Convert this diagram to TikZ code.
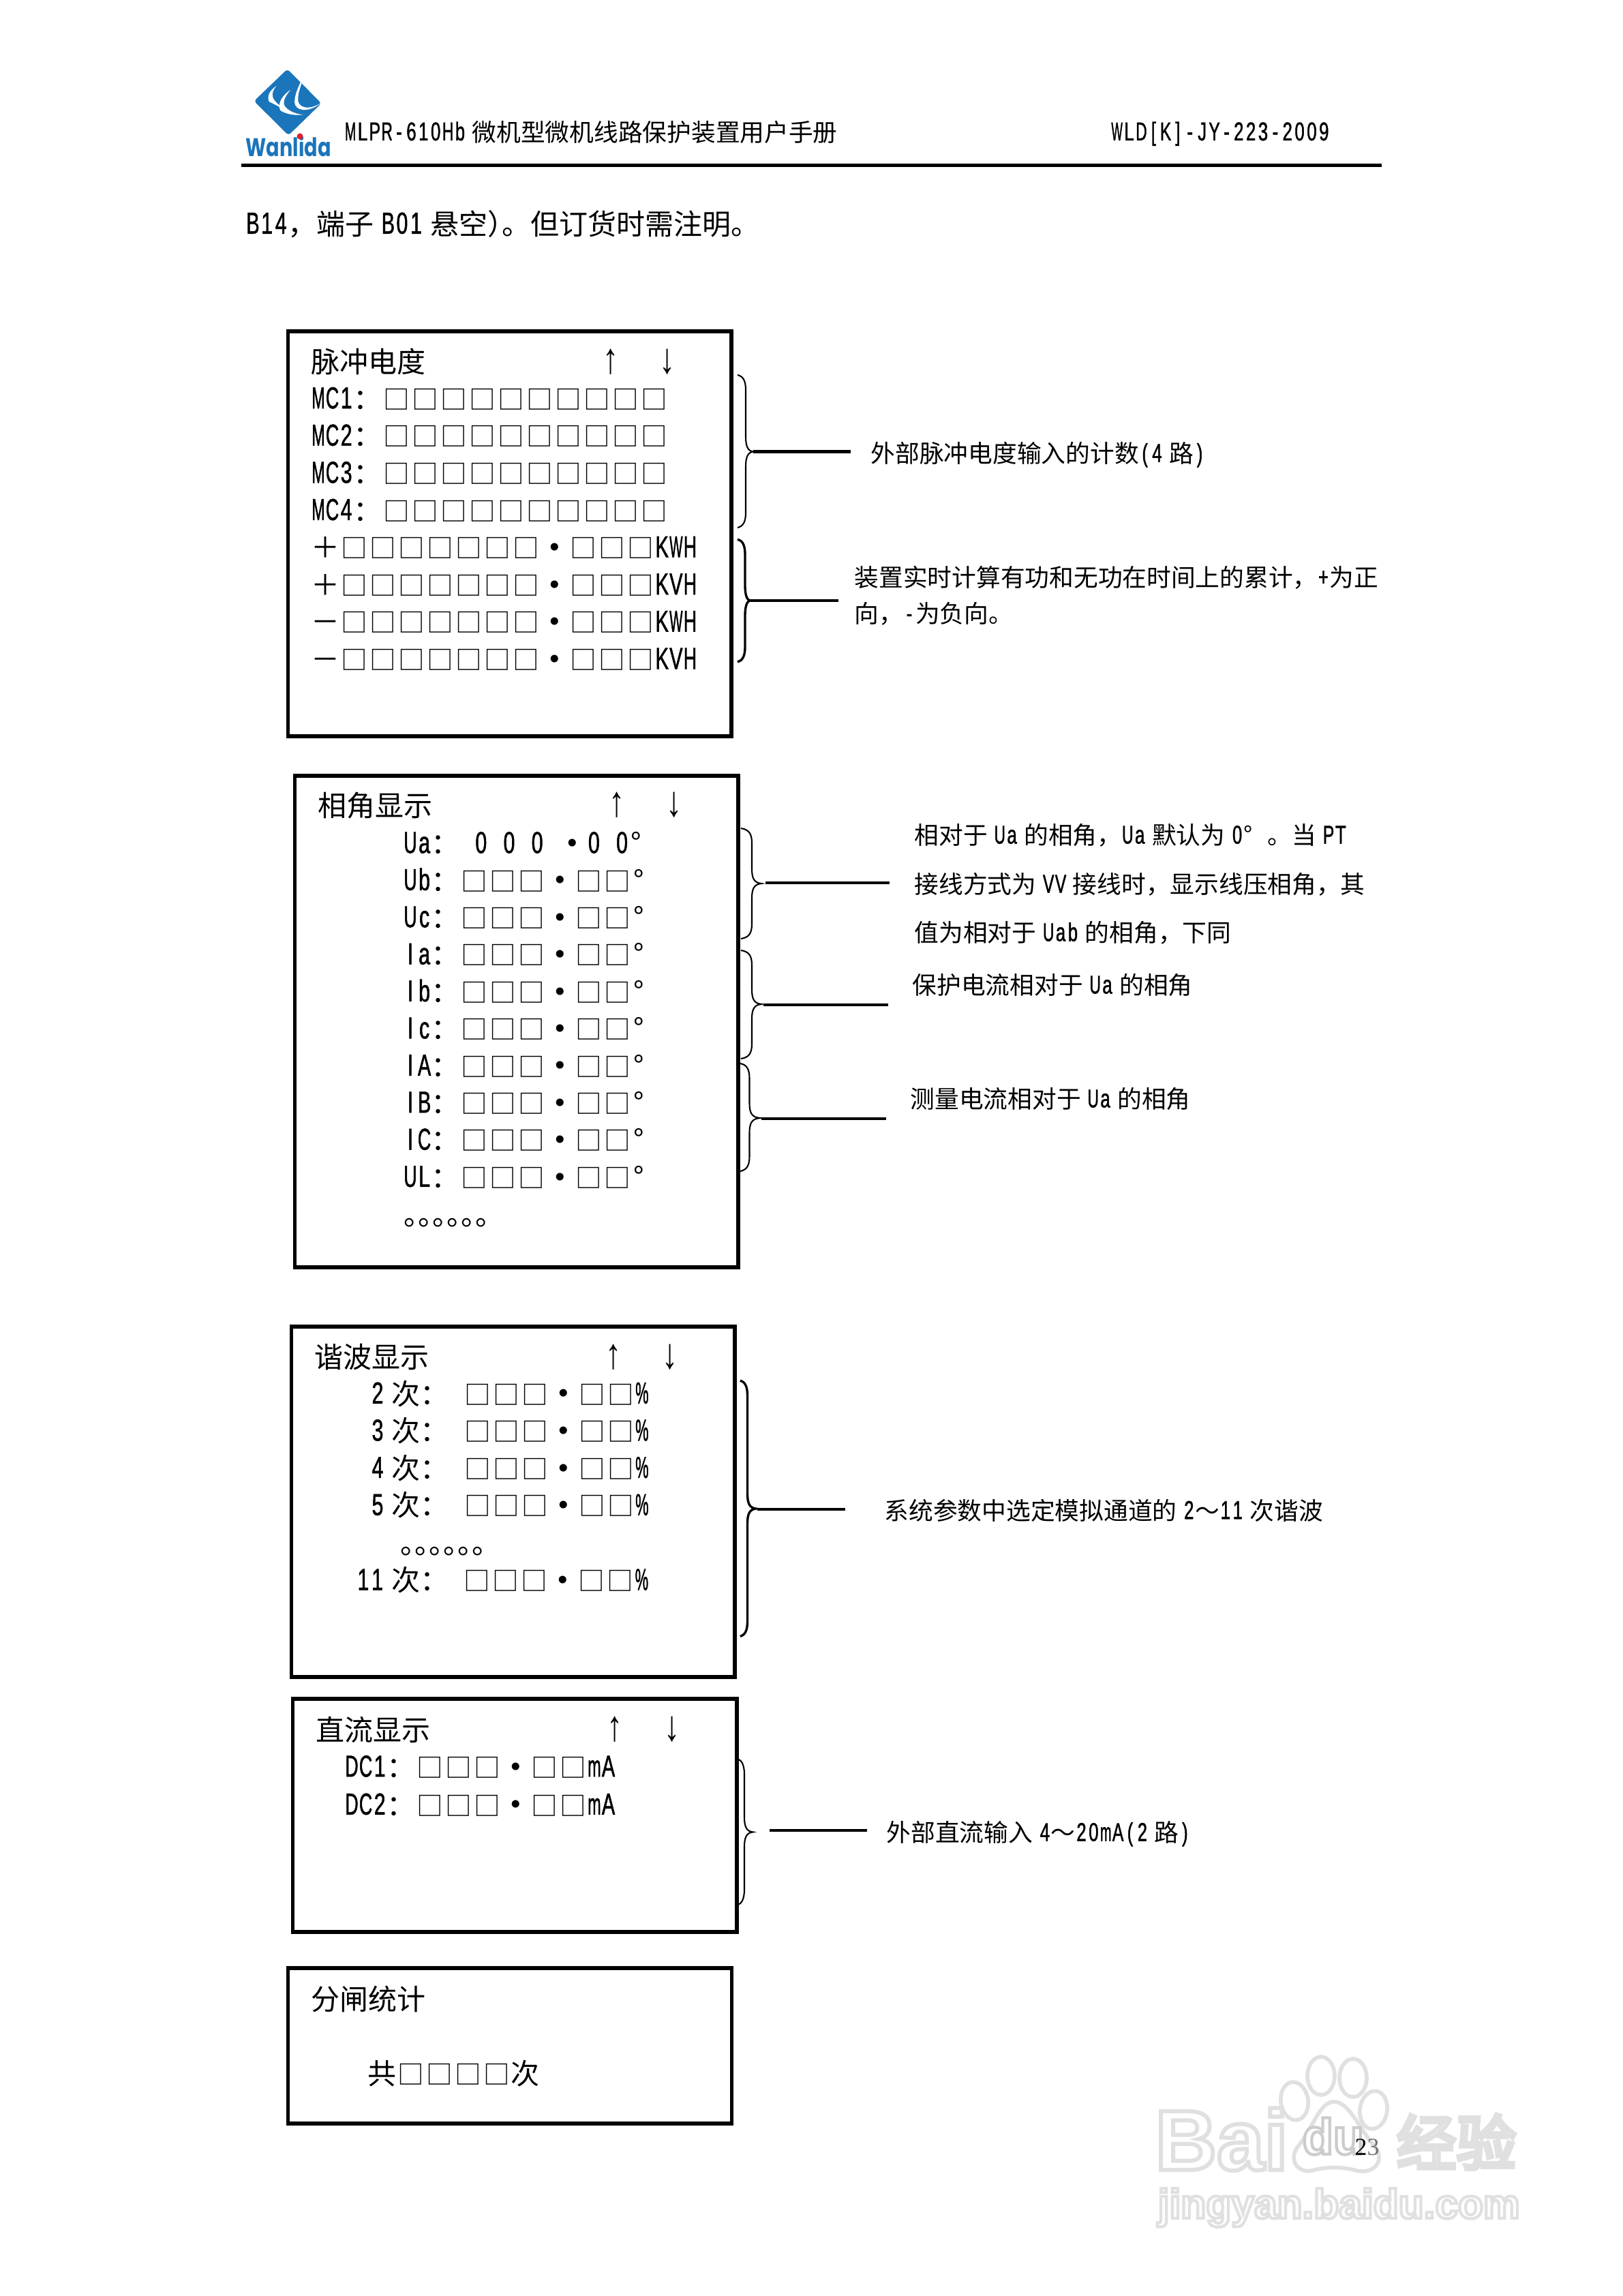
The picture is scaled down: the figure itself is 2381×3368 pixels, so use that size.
\documentclass[tikz,border=0pt]{standalone}
\usepackage{fontspec}
\usepackage{graphicx}
\setmainfont{Noto Sans CJK SC}
\newfontfamily\latf[FakeStretch=0.68,FakeBold=1.2,Scale=1.06]{Liberation Sans}
\newfontfamily\wmfam{Liberation Sans}
\newfontfamily\arrf{Liberation Sans}
\newcommand\wmf{\wmfam\bfseries}
\newfontfamily\logofam{Poppins}
\newcommand\logof{\logofam\bfseries}
\newfontfamily\serf{Liberation Serif}
\newcommand\ltw{.5em}
\newcommand\fa{\fontsize{11.95pt}{14pt}\selectfont\renewcommand\ltw{.49em}}
\newcommand\fb{\fontsize{10.16pt}{12pt}\selectfont}
\newsavebox\ltbox
\makeatletter
\newcommand\lt@one[1]{\sbox\ltbox{\latf #1}\ifdim\wd\ltbox>.46em\makebox[\ltw]{\raisebox{.03em}{\resizebox{.46em}{\height}{\usebox\ltbox}}}\else\makebox[\ltw]{\raisebox{.03em}{\usebox\ltbox}}\fi}
\newcommand\Lat[1]{\@tfor\lt@c:=#1\do{\lt@one{\lt@c}}}
\makeatother
\newcommand\qs{\hspace{.25em}}
\newcommand\dt{\makebox[1em]{\raisebox{-.09em}{\scalebox{1.25}{•}}}}
\newcommand\dg{\makebox[.5em]{°}}
\newcommand\sqc{\makebox[1em]{\scalebox{.92}{\char"25A1}}}
\catcode`□=\active
\def□{\sqc}
\newcommand\uparr{\scalebox{1.1}[1.5]{↑}}
\newcommand\dnarr{\scalebox{1.1}[1.5]{↓}}
\newcommand\sixo{\makebox[.5em][l]{\hspace{-.06em}。}\makebox[.5em][l]{\hspace{-.06em}。}\makebox[.5em][l]{\hspace{-.06em}。}\makebox[.5em][l]{\hspace{-.06em}。}\makebox[.5em][l]{\hspace{-.06em}。}\makebox[.5em][l]{\hspace{-.06em}。}}
\definecolor{wblue}{HTML}{1B75BB}
\definecolor{wred}{HTML}{D8232A}
\tikzset{
  rowa/.style={anchor=base west,inner sep=0pt,font=\fa},
  rowb/.style={anchor=base west,inner sep=0pt,font=\fb},
  arrowch/.style={anchor=base,inner sep=0pt,font=\fa\arrf},
  screen/.style={draw=black,line width=1.7pt},
  lead/.style={draw=black,line width=1.15pt},
  bracethin/.style={draw=black,line width=.6pt},
  bracethick/.style={draw=black,line width=.95pt},
  wmline/.style={draw=black!12,line width=1.6pt,fill=white},
}
% name, style, x start, x vertical, x tip, y top, y centre, y bottom
\newcommand\brc[8]{%
  \coordinate (#1tip) at (#5,#7);
  \draw[#2] (#3,#6) .. controls (#4-4,#6+2) and (#4,#6+8) .. (#4,#6+22)
    -- (#4,#7-22) .. controls (#4,#7-8) and (#4+3,#7-1) .. (#1tip)
    .. controls (#4+3,#7+1) and (#4,#7+8) .. (#4,#7+22)
    -- (#4,#8-22) .. controls (#4,#8-8) and (#4-4,#8-2) .. (#3,#8);
}
% name, x0, x1, y
\newcommand\leadl[4]{%
  \coordinate (#1a) at (#2,#4);
  \coordinate (#1b) at (#3,#4);
  \draw[lead] (#1a) -- (#1b);
}
\begin{document}
\begin{tikzpicture}[x=0.01cm,y=-0.01cm]
\useasboundingbox (0,0) rectangle (2381,3368);
\fill[white] (0,0) rectangle (2381,3368);

% ---------- logo
\begin{scope}[shift={(345,90)},x=0.003333cm,y=-0.003333cm]
  \fill[wblue,rounded corners=1.2pt] (230,34) -- (380,185) -- (235,326) -- (83,175) -- cycle;
  \fill[white] (182,108) .. controls (152,128) and (138,155) .. (150,178) .. controls (170,188) and (200,200) .. (222,222) .. controls (200,195) and (172,178) .. (166,158) .. controls (160,140) and (170,122) .. (182,108) -- cycle;
  \fill[white] (244,125) .. controls (212,148) and (185,180) .. (198,215) .. controls (220,232) and (262,240) .. (300,235) .. controls (262,232) and (226,214) .. (216,192) .. controls (210,170) and (228,145) .. (244,125) -- cycle;
  \fill[white] (312,38) .. controls (300,75) and (262,130) .. (262,180) .. controls (262,216) and (320,232) .. (378,183) .. controls (330,214) and (288,208) .. (278,178) .. controls (272,140) and (298,90) .. (312,38) -- cycle;
\end{scope}
\node[inner sep=0pt,text=wblue,anchor=base west] (logotext) at (360,229)
  {\resizebox{1.25cm}{0.30cm}{\logof Wanlida}};
\fill[wred] (440,200) circle (4.5);

% ---------- header
\node[rowb] (hdr) at (504.5,207) {\Lat{MLPR-610Hb}\qs 微机型微机线路保护装置用户手册};
\node[rowb] (hdrr) at (1629,207) {\Lat{WLD[K]-JY-223-2009}};
\coordinate (hl) at (354,242.5);
\coordinate (hr) at (2027,242.5);
\draw[lead] (hl) -- (hr);
\node[rowa] (body) at (360,344) {\Lat{B14}，端子\qs\Lat{B01}\qs 悬空\makebox[.5em][l]{）}。但订货时需注明。};

% ---------- box 1
\draw[screen] (422.5,486) rectangle (1073,1079.5);
\node[rowa] (t1) at (456,546.5) {脉冲电度};
\node[arrowch] (u1) at (896,547) {\uparr};
\node[arrowch] (d1) at (979,547) {\dnarr};
\node[rowa] (m1) at (456,600.3) {\Lat{MC1}：□□□□□□□□□□};
\node[rowa] (m2) at (456,654.9) {\Lat{MC2}：□□□□□□□□□□};
\node[rowa] (m3) at (456,709.5) {\Lat{MC3}：□□□□□□□□□□};
\node[rowa] (m4) at (456,764.1) {\Lat{MC4}：□□□□□□□□□□};
\node[rowa] (p1) at (456,818.7) {＋□□□□□□□\dt□□□\Lat{KWH}};
\node[rowa] (p2) at (456,873.3) {＋□□□□□□□\dt□□□\Lat{KVH}};
\node[rowa] (n1) at (456,927.9) {－□□□□□□□\dt□□□\Lat{KWH}};
\node[rowa] (n2) at (456,982.5) {－□□□□□□□\dt□□□\Lat{KVH}};
\brc{ba}{bracethin}{1082}{1094}{1105}{550}{662.5}{774}
\leadl{la}{1105}{1248}{662.5}
\brc{bb}{bracethick}{1082}{1093}{1100}{791}{881}{971}
\leadl{lb}{1098}{1230}{881}
\node[rowb] (ta) at (1277,678.6) {外部脉冲电度输入的计数\Lat{(4}\qs 路\Lat{)}};
\node[rowb] (tb1) at (1253,860.3) {装置实时计算有功和无功在时间上的累计，\Lat{+}为正};
\node[rowb] (tb2) at (1253,913.6) {向，\Lat{-}为负向。};

% ---------- box 2
\draw[screen] (432.5,1138) rectangle (1083,1859);
\node[rowa] (t2) at (466,1197) {相角显示};
\node[arrowch] (u2) at (905,1197.5) {\uparr};
\node[arrowch] (d2) at (989,1197.5) {\dnarr};
\node[rowa] (ua) at (591,1252.6) {\Lat{Ua}：\Lat{~0~0~0~}\dt\Lat{0~0}\dg};
\node[rowa] (ub) at (591,1307) {\Lat{Ub}：□□□\dt□□\dg};
\node[rowa] (uc) at (591,1361.4) {\Lat{Uc}：□□□\dt□□\dg};
\node[rowa] (ia) at (591,1415.8) {\Lat{Ia}：□□□\dt□□\dg};
\node[rowa] (ib) at (591,1470.2) {\Lat{Ib}：□□□\dt□□\dg};
\node[rowa] (ic) at (591,1524.6) {\Lat{Ic}：□□□\dt□□\dg};
\node[rowa] (iA) at (591,1579) {\Lat{IA}：□□□\dt□□\dg};
\node[rowa] (iB) at (591,1633.4) {\Lat{IB}：□□□\dt□□\dg};
\node[rowa] (iC) at (591,1687.8) {\Lat{IC}：□□□\dt□□\dg};
\node[rowa] (uL) at (591,1742.2) {\Lat{UL}：□□□\dt□□\dg};
\node[rowa] (el2) at (594,1797) {\sixo};
\brc{bc}{bracethin}{1087}{1103}{1117}{1215}{1296}{1377}
\leadl{lc}{1123}{1305}{1295}
\brc{bd}{bracethin}{1087}{1103}{1117}{1394}{1473}{1553}
\leadl{ld}{1120}{1303}{1473.7}
\brc{be}{bracethin}{1086}{1099.5}{1115}{1560}{1640}{1718}
\leadl{le}{1117}{1300}{1641}
\node[rowb] (tc1) at (1341,1238.6) {相对于\qs\Lat{Ua}\qs 的相角，\Lat{Ua}\qs 默认为\qs\Lat{0}\makebox[1em][l]{°}。当\qs\Lat{PT}};
\node[rowb] (tc2) at (1341,1310.6) {接线方式为\qs\Lat{VV}\qs 接线时，显示线压相角，其};
\node[rowb] (tc3) at (1341,1381.6) {值为相对于\qs\Lat{Uab}\qs 的相角，下同};
\node[rowb] (td) at (1338,1458.6) {保护电流相对于\qs\Lat{Ua}\qs 的相角};
\node[rowb] (te) at (1335,1625.6) {测量电流相对于\qs\Lat{Ua}\qs 的相角};

% ---------- box 3
\draw[screen] (427.5,1946) rectangle (1078,2459.5);
\node[rowa] (t3) at (460.5,2006.7) {谐波显示};
\node[arrowch] (u3) at (900,2007.2) {\uparr};
\node[arrowch] (d3) at (983,2007.2) {\dnarr};
\node[rowa] (h2) at (543,2060) {\Lat{2}\qs 次：\Lat{~}□□□\dt□□\Lat{\%}};
\node[rowa] (h3) at (543,2114.6) {\Lat{3}\qs 次：\Lat{~}□□□\dt□□\Lat{\%}};
\node[rowa] (h4) at (543,2169.2) {\Lat{4}\qs 次：\Lat{~}□□□\dt□□\Lat{\%}};
\node[rowa] (h5) at (543,2223.8) {\Lat{5}\qs 次：\Lat{~}□□□\dt□□\Lat{\%}};
\node[rowa] (el3) at (589,2279) {\sixo};
\node[rowa] (h11) at (522,2333.6) {\Lat{11}\qs 次：\Lat{~}□□□\dt□□\Lat{\%}};
\brc{bf}{bracethick}{1086}{1096.5}{1109}{2025}{2213}{2400.5}
\leadl{lf}{1111}{1240}{2214}
\node[rowb] (tf) at (1297,2229.3) {系统参数中选定模拟通道的\qs\Lat{2}～\Lat{11}\qs 次谐波};

% ---------- box 4
\draw[screen] (429.5,2492) rectangle (1081,2834);
\node[rowa] (t4) at (463,2553) {直流显示};
\node[arrowch] (u4) at (902.5,2553.5) {\uparr};
\node[arrowch] (d4) at (986,2553.5) {\dnarr};
\node[rowa] (dc1) at (505,2607.4) {\Lat{DC1}：□□□\dt□□\Lat{mA}};
\node[rowa] (dc2) at (505,2663) {\Lat{DC2}：□□□\dt□□\Lat{mA}};
\brc{bg}{bracethin}{1084}{1092}{1104.6}{2581}{2687.4}{2793.5}
\leadl{lg}{1128.7}{1272}{2684.7}
\node[rowb] (tg) at (1300,2701.6) {外部直流输入\qs\Lat{4}～\Lat{20mA(2}\qs 路\Lat{)}};

% ---------- box 5
\draw[screen] (422.5,2887) rectangle (1073.5,3114.5);
\node[rowa] (t5) at (456,2948) {分闸统计};
\node[rowa] (tot) at (539,3057.4) {共□□□□次};

% ---------- watermark
\begin{scope}
  \foreach \px/\py/\pa in {1899/3082/8,1938/3045/0,1985/3048/0,2015/3095/-8}
    \draw[wmline,rotate around={\pa:(\px,\py)}] (\px,\py) ellipse (20 and 28);
  \draw[wmline] (1957,3083) .. controls (1935,3083) and (1925,3125) .. (1903,3150)
    .. controls (1890,3170) and (1905,3188) .. (1925,3184)
    .. controls (1945,3178) and (1970,3178) .. (1990,3184)
    .. controls (2015,3190) and (2032,3170) .. (2018,3150)
    .. controls (1995,3125) and (1980,3083) .. (1957,3083) -- cycle;
  \node[inner sep=0pt,anchor=base west,text=white] (wm1) at (1694,3183)
    {\fontsize{35.6pt}{36pt}\selectfont\wmf\special{pdf:code 2 Tr 0.88 G 1.7 w}Bai\special{pdf:code 0 Tr}};
  \node[inner sep=0pt,anchor=base west,text=white] (wm2) at (1910,3160)
    {\fontsize{21pt}{22pt}\selectfont\wmf\special{pdf:code 2 Tr 0.80 G 1.2 w}du\special{pdf:code 0 Tr}};
  \node[inner sep=0pt,anchor=base west,text=white] (wm3) at (2048,3176)
    {\fontsize{25pt}{26pt}\selectfont\special{pdf:code 2 Tr 0.88 G 1.7 w}经验\special{pdf:code 0 Tr}};
  \node[inner sep=0pt,anchor=base west,text=white] (wm4) at (1698,3254)
    {\fontsize{17.2pt}{18pt}\selectfont\wmf\special{pdf:code 2 Tr 0.88 G 1.2 w}jingyan.baidu.com\special{pdf:code 0 Tr}};
\end{scope}
\node[inner sep=0pt,anchor=base west,font=\fontsize{10.2pt}{12pt}\selectfont\serf] (pg) at (1987,3161) {2{\color{black!55}3}};
\end{tikzpicture}
\end{document}
